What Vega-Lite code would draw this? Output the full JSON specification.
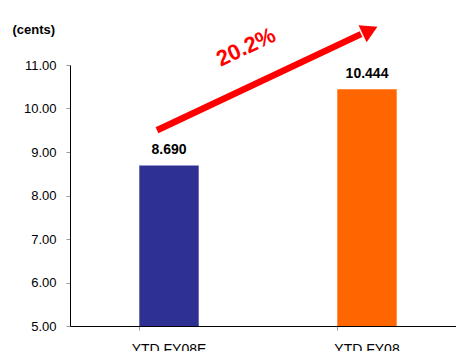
{
  "$schema": "https://vega.github.io/schema/vega-lite/v6.json",
  "autosize": "none",
  "width": 396,
  "height": 261,
  "padding": {"left": 70, "top": 65, "right": 0, "bottom": 25},
  "background": "white",
  "config": {
    "view": {"stroke": null},
    "font": "Liberation Sans"
  },
  "datasets": {
    "bars": [
      {"period": "YTD FY08E", "value": 8.690, "label": "8.690"},
      {"period": "YTD FY08", "value": 10.444, "label": "10.444"}
    ],
    "arrow": [
      {"from": "YTD FY08E", "to": "YTD FY08", "y_start": 9.5, "y_end": 11.71, "y_head": 11.80, "y_text": 11.41, "text": "20.2%"}
    ]
  },
  "layer": [
    {
      "data": {"name": "bars"},
      "mark": {"type": "bar"},
      "encoding": {
        "x": {
          "field": "period", "type": "nominal", "sort": null,
          "scale": {"domain": ["YTD FY08E", "YTD FY08"], "paddingInner": 0.7, "paddingOuter": 0.35},
          "axis": {
            "title": null, "labelAngle": 0, "labelFontSize": 14, "labelColor": "#000000",
            "labelPadding": 12, "bandPosition": 0, "tickSize": 4, "tickColor": "#999999",
            "domainColor": "#000000", "grid": false
          }
        },
        "y": {
          "field": "value", "type": "quantitative",
          "scale": {"domain": [5, 11], "nice": false, "zero": false},
          "axis": {
            "title": "(cents)", "titleAngle": 0, "titleAlign": "left", "titleBaseline": "alphabetic",
            "titleX": -58, "titleY": -32, "titleFontSize": 13, "titleFontWeight": "bold", "titleColor": "#000000",
            "format": ".2f", "values": [5, 6, 7, 8, 9, 10, 11],
            "labelFontSize": 13, "labelColor": "#000000", "labelPadding": 10,
            "tickSize": 4, "tickColor": "#999999", "domainColor": "#000000", "grid": false
          }
        },
        "y2": {"datum": 5},
        "color": {
          "field": "period", "type": "nominal", "legend": null,
          "scale": {"domain": ["YTD FY08E", "YTD FY08"], "range": ["#2E3192", "#FF6600"]}
        }
      }
    },
    {
      "data": {"name": "bars"},
      "mark": {"type": "text", "fontSize": 14, "fontWeight": "bold", "baseline": "alphabetic", "dy": -11, "color": "#000000"},
      "encoding": {
        "x": {"field": "period", "type": "nominal", "sort": null},
        "y": {"field": "value", "type": "quantitative"},
        "text": {"field": "label"}
      }
    },
    {
      "data": {"name": "arrow"},
      "mark": {"type": "rule", "color": "#FF0000", "strokeWidth": 6.5, "xOffset": -12, "x2Offset": -6},
      "encoding": {
        "x": {"field": "from", "type": "nominal", "sort": null},
        "x2": {"field": "to"},
        "y": {"field": "y_start", "type": "quantitative"},
        "y2": {"field": "y_end"}
      }
    },
    {
      "data": {"name": "arrow"},
      "mark": {"type": "point", "shape": "triangle-up", "filled": true, "opacity": 1, "color": "#FF0000", "size": 360, "angle": 64.6, "xOffset": 3},
      "encoding": {
        "x": {"field": "to", "type": "nominal", "sort": null},
        "y": {"field": "y_head", "type": "quantitative"}
      }
    },
    {
      "data": {"name": "arrow"},
      "mark": {"type": "text", "fontSize": 22, "fontWeight": "bold", "color": "#FF0000", "angle": -25, "align": "center", "baseline": "middle", "xOffset": 77},
      "encoding": {
        "x": {"field": "from", "type": "nominal", "sort": null},
        "y": {"field": "y_text", "type": "quantitative"},
        "text": {"field": "text"}
      }
    }
  ]
}
